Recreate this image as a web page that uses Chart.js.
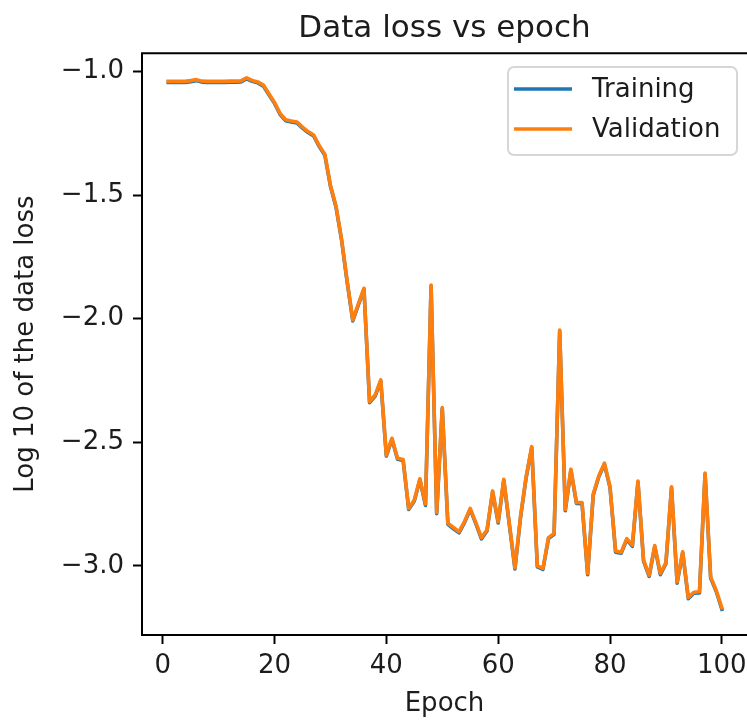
<!DOCTYPE html>
<html>
<head>
<meta charset="utf-8">
<script src="https://cdn.jsdelivr.net/npm/chart.js@4.4.1/dist/chart.umd.min.js"></script>
<style>
  html, body { margin: 0; padding: 0; background: #ffffff; overflow: hidden; }
  #wrap { width: 747px; height: 720px; }
</style>
</head>
<body>
<div id="wrap"><canvas id="c" width="747" height="720"></canvas></div>
<script>
const chartTitle = 'Data loss vs epoch';
const xAxisTitle = 'Epoch';
const yAxisTitle = 'Log 10 of the data loss';
const seriesLabels = ['Training', 'Validation'];

const epochs = [
  1, 2, 3, 4, 5, 6, 7, 8, 9, 10,
  11, 12, 13, 14, 15, 16, 17, 18, 19, 20,
  21, 22, 23, 24, 25, 26, 27, 28, 29, 30,
  31, 32, 33, 34, 35, 36, 37, 38, 39, 40,
  41, 42, 43, 44, 45, 46, 47, 48, 49, 50,
  51, 52, 53, 54, 55, 56, 57, 58, 59, 60,
  61, 62, 63, 64, 65, 66, 67, 68, 69, 70,
  71, 72, 73, 74, 75, 76, 77, 78, 79, 80,
  81, 82, 83, 84, 85, 86, 87, 88, 89, 90,
  91, 92, 93, 94, 95, 96, 97, 98, 99, 100
];

const trainingLoss = [
  -1.044, -1.044, -1.044, -1.044, -1.041, -1.037, -1.043, -1.044, -1.044, -1.044,
  -1.044, -1.043, -1.043, -1.042, -1.030, -1.040, -1.046, -1.059, -1.094, -1.129,
  -1.174, -1.199, -1.204, -1.208, -1.229, -1.247, -1.261, -1.304, -1.339, -1.464,
  -1.549, -1.684, -1.854, -2.009, -1.944, -1.881, -2.340, -2.313, -2.252, -2.556,
  -2.488, -2.569, -2.574, -2.772, -2.738, -2.652, -2.756, -1.868, -2.789, -2.364,
  -2.832, -2.850, -2.867, -2.824, -2.772, -2.829, -2.891, -2.859, -2.701, -2.827,
  -2.654, -2.835, -3.013, -2.804, -2.644, -2.522, -3.004, -3.015, -2.890, -2.873,
  -2.050, -2.777, -2.613, -2.748, -2.749, -3.036, -2.714, -2.640, -2.589, -2.684,
  -2.945, -2.949, -2.894, -2.921, -2.661, -2.981, -3.043, -2.922, -3.036, -2.991,
  -2.684, -3.070, -2.947, -3.133, -3.111, -3.110, -2.629, -3.050, -3.104, -3.176
];

const validationLoss = [
  -1.040, -1.040, -1.040, -1.040, -1.037, -1.033, -1.039, -1.040, -1.040, -1.040,
  -1.040, -1.039, -1.039, -1.038, -1.026, -1.036, -1.042, -1.055, -1.090, -1.125,
  -1.170, -1.195, -1.200, -1.204, -1.225, -1.243, -1.257, -1.300, -1.335, -1.460,
  -1.545, -1.680, -1.850, -2.005, -1.940, -1.877, -2.336, -2.309, -2.248, -2.552,
  -2.484, -2.565, -2.570, -2.768, -2.734, -2.648, -2.750, -1.864, -2.784, -2.360,
  -2.828, -2.845, -2.862, -2.820, -2.768, -2.825, -2.886, -2.855, -2.697, -2.822,
  -2.650, -2.830, -3.008, -2.800, -2.640, -2.518, -3.000, -3.010, -2.886, -2.869,
  -2.046, -2.772, -2.609, -2.744, -2.744, -3.031, -2.710, -2.636, -2.585, -2.680,
  -2.940, -2.945, -2.890, -2.916, -2.657, -2.977, -3.038, -2.918, -3.031, -2.987,
  -2.680, -3.065, -2.943, -3.128, -3.107, -3.105, -2.625, -3.045, -3.100, -3.170
];

const xTickValues = [0, 20, 40, 60, 80, 100];
const yTickValues = [-3.0, -2.5, -2.0, -1.5, -1.0];

const FONT = 'DejaVu Sans';
const TEXT = '#1c1c1c';
const BLUE = '#1f77b4';
const ORANGE = '#ff7f0e';

function pts(ys) { return epochs.map((e, i) => ({ x: e, y: ys[i] })); }

const framePlugin = {
  id: 'frame',
  afterDatasetsDraw(chart) {
    const { ctx, chartArea: a } = chart;
    ctx.save();
    ctx.strokeStyle = '#000000';
    ctx.lineWidth = 2;
    ctx.beginPath();
    ctx.moveTo(a.right + 4, a.top);
    ctx.lineTo(a.left, a.top);
    ctx.lineTo(a.left, a.bottom);
    ctx.lineTo(a.right + 4, a.bottom);
    ctx.stroke();
    ctx.restore();
  }
};

const boxLegendPlugin = {
  id: 'boxLegend',
  afterDraw(chart) {
    const { ctx } = chart;
    const ds = chart.data.datasets;
    const bx = 508, by = 67, bw = 229, bh = 88, r = 6;
    ctx.save();
    ctx.beginPath();
    ctx.moveTo(bx + r, by);
    ctx.arcTo(bx + bw, by, bx + bw, by + bh, r);
    ctx.arcTo(bx + bw, by + bh, bx, by + bh, r);
    ctx.arcTo(bx, by + bh, bx, by, r);
    ctx.arcTo(bx, by, bx + bw, by, r);
    ctx.closePath();
    ctx.fillStyle = 'rgba(255,255,255,0.8)';
    ctx.fill();
    ctx.strokeStyle = 'rgba(204,204,204,0.8)';
    ctx.lineWidth = 2;
    ctx.stroke();
    ctx.font = '26px "' + FONT + '"';
    ctx.textBaseline = 'middle';
    ctx.textAlign = 'left';
    const rows = [89, 129];
    ds.forEach((d, i) => {
      ctx.strokeStyle = d.borderColor;
      ctx.lineWidth = 3.6;
      ctx.lineCap = 'butt';
      ctx.beginPath();
      ctx.moveTo(514, rows[i]);
      ctx.lineTo(572, rows[i]);
      ctx.stroke();
      ctx.fillStyle = TEXT;
      ctx.fillText(d.label, 592, rows[i] + 1);
    });
    ctx.restore();
  }
};

new Chart(document.getElementById('c'), {
  type: 'line',
  data: {
    datasets: [
      { label: seriesLabels[0], data: pts(trainingLoss), borderColor: BLUE, backgroundColor: BLUE,
        borderWidth: 3.6, pointRadius: 0, tension: 0, order: 1, borderJoinStyle: 'round', borderCapStyle: 'square' },
      { label: seriesLabels[1], data: pts(validationLoss), borderColor: ORANGE, backgroundColor: ORANGE,
        borderWidth: 3.6, pointRadius: 0, tension: 0, order: 0, borderJoinStyle: 'round', borderCapStyle: 'square' }
    ]
  },
  options: {
    responsive: false,
    animation: false,
    devicePixelRatio: 1,
    layout: { padding: 0 },
    plugins: {
      legend: { display: false },
      tooltip: { enabled: false },
      title: {
        display: true, text: chartTitle, fullSize: false, color: TEXT,
        font: { family: FONT, size: 31, weight: 'normal' },
        padding: { top: 10, bottom: 6 }
      }
    },
    scales: {
      x: {
        type: 'linear', min: -3.7, max: 104.5,
        afterBuildTicks(s) { s.ticks = xTickValues.map(v => ({ value: v })); },
        afterFit(s) { s.height = 85; s.paddingLeft = 0; s.paddingRight = 0; },
        border: { display: false },
        grid: { display: true, drawOnChartArea: false, drawTicks: true, tickLength: 9, tickWidth: 2, tickColor: '#000000' },
        ticks: { color: TEXT, font: { family: FONT, size: 26 }, padding: 7, maxRotation: 0, autoSkip: false,
                 callback: v => String(v) },
        title: { display: true, text: xAxisTitle, color: TEXT, font: { family: FONT, size: 26 }, padding: { top: 0, bottom: 0 } }
      },
      y: {
        type: 'linear', min: -3.28, max: -0.926,
        afterBuildTicks(s) { s.ticks = yTickValues.map(v => ({ value: v })); },
        afterFit(s) { s.width = 142; s.paddingTop = 0; s.paddingBottom = 0; },
        border: { display: false },
        grid: { display: true, drawOnChartArea: false, drawTicks: true, tickLength: 9, tickWidth: 2, tickColor: '#000000' },
        ticks: { color: TEXT, font: { family: FONT, size: 26 }, padding: 9,
                 callback: v => (v < 0 ? '\u2212' : '') + Math.abs(v).toFixed(1) },
        title: { display: true, text: yAxisTitle, color: TEXT, font: { family: FONT, size: 26 }, padding: { top: 11, bottom: 0 } }
      }
    }
  },
  plugins: [framePlugin, boxLegendPlugin]
});
</script>
</body>
</html>
